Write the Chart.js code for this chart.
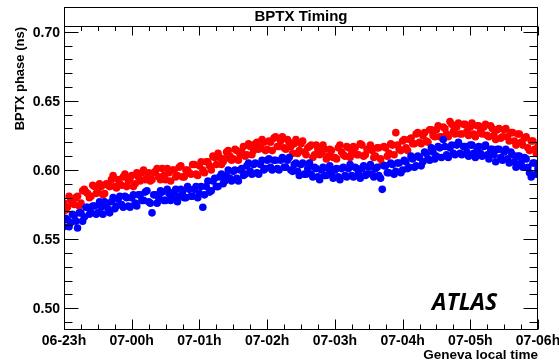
<!DOCTYPE html>
<html>
<head>
<meta charset="utf-8">
<script src="https://cdn.jsdelivr.net/npm/chart.js@4/dist/chart.umd.min.js"></script>
<style>
  html, body { margin: 0; padding: 0; background: #fff; }
  #wrap { width: 559px; height: 364px; }
</style>
</head>
<body>
<div id="wrap"><canvas id="bptxCanvas" width="559" height="364"></canvas></div>
<script>
// sampling step of the timing monitor, in hours after 06-23h (3 minutes)
const sampleStep = 0.05;

// BPTX phase readings (ns) on the full sample grid
const redPhase = [
  0.576, 0.573, 0.578, 0.575, 0.581, 0.576, 0.586, 0.583, 0.581, 0.588,
  0.584, 0.588, 0.583, 0.589, 0.593, 0.588, 0.593, 0.589, 0.597, 0.592,
  0.596, 0.590, 0.595, 0.598, 0.593, 0.598, 0.593, 0.599, 0.595, 0.601,
  0.593, 0.598, 0.600, 0.595, 0.602, 0.595, 0.600, 0.598, 0.604, 0.597,
  0.603, 0.600, 0.606, 0.603, 0.610, 0.604, 0.609, 0.606, 0.613, 0.610,
  0.608, 0.614, 0.611, 0.617, 0.611, 0.617, 0.614, 0.620, 0.616, 0.620,
  0.615, 0.620, 0.623, 0.617, 0.621, 0.616, 0.622, 0.617, 0.619, 0.612,
  0.619, 0.613, 0.616, 0.618, 0.611, 0.615, 0.612, 0.615, 0.610, 0.614,
  0.609, 0.616, 0.613, 0.610, 0.616, 0.612, 0.616, 0.611, 0.618, 0.611,
  0.615, 0.614, 0.610, 0.616, 0.604, 0.616, 0.612, 0.618, 0.627, 0.615,
  0.621, 0.616, 0.622, 0.619, 0.626, 0.620, 0.625, 0.621, 0.629, 0.625,
  0.629, 0.624, 0.631, 0.626, 0.635, 0.628, 0.631, 0.626, 0.633, 0.628,
  0.631, 0.626, 0.632, 0.628, 0.631, 0.625, 0.632, 0.625, 0.629, 0.623,
  0.629, 0.624, 0.627, 0.621, 0.626, 0.620, 0.623, 0.616, 0.621, 0.615,
  0.617
];

const bluePhase = [
  0.559, 0.564, 0.562, 0.567, 0.558, 0.569, 0.566, 0.573, 0.569, 0.574,
  0.569, 0.573, 0.577, 0.572, 0.577, 0.572, 0.579, 0.575, 0.581, 0.574,
  0.580, 0.576, 0.582, 0.578, 0.584, 0.577, 0.569, 0.582, 0.580, 0.584,
  0.578, 0.583, 0.580, 0.586, 0.581, 0.584, 0.580, 0.586, 0.581, 0.588,
  0.583, 0.573, 0.588, 0.584, 0.592, 0.588, 0.595, 0.590, 0.596, 0.594,
  0.599, 0.594, 0.600, 0.596, 0.603, 0.599, 0.604, 0.598, 0.604, 0.600,
  0.607, 0.602, 0.607, 0.601, 0.607, 0.602, 0.607, 0.600, 0.604, 0.599,
  0.604, 0.597, 0.601, 0.597, 0.602, 0.595, 0.600, 0.596, 0.601, 0.597,
  0.600, 0.595, 0.601, 0.596, 0.601, 0.596, 0.602, 0.598, 0.601, 0.596,
  0.602, 0.597, 0.601, 0.596, 0.586, 0.603, 0.598, 0.604, 0.599, 0.605,
  0.600, 0.606, 0.602, 0.608, 0.603, 0.609, 0.606, 0.612, 0.607, 0.613,
  0.610, 0.616, 0.622, 0.611, 0.616, 0.612, 0.618, 0.612, 0.617, 0.613,
  0.618, 0.612, 0.616, 0.612, 0.617, 0.611, 0.615, 0.611, 0.615, 0.609,
  0.613, 0.608, 0.613, 0.606, 0.610, 0.605, 0.609, 0.602, 0.595, 0.605,
  0.601
];

// readings taken half way between the grid samples
const redPhaseMid = [
  0.571, 0.581, 0.576, 0.580, 0.574, 0.585, 0.584, 0.580, 0.589, 0.583,
  0.590, 0.582, 0.590, 0.588, 0.596, 0.587, 0.590, 0.595, 0.588, 0.594,
  0.588, 0.598, 0.592, 0.600, 0.594, 0.592, 0.598, 0.601, 0.593, 0.596,
  0.601, 0.592, 0.600, 0.596, 0.603, 0.595, 0.600, 0.597, 0.604, 0.596,
  0.606, 0.598, 0.606, 0.600, 0.609, 0.612, 0.604, 0.608, 0.614, 0.607,
  0.615, 0.607, 0.613, 0.610, 0.619, 0.611, 0.619, 0.615, 0.622, 0.614,
  0.621, 0.614, 0.624, 0.617, 0.624, 0.615, 0.620, 0.612, 0.622, 0.614,
  0.621, 0.611, 0.617, 0.609, 0.618, 0.611, 0.618, 0.608, 0.615, 0.609,
  0.608, 0.618, 0.611, 0.617, 0.609, 0.617, 0.611, 0.619, 0.610, 0.615,
  0.618, 0.609, 0.616, 0.608, 0.617, 0.610, 0.619, 0.611, 0.618, 0.614,
  0.622, 0.614, 0.623, 0.619, 0.627, 0.619, 0.627, 0.620, 0.629, 0.624,
  0.632, 0.624, 0.630, 0.624, 0.633, 0.626, 0.634, 0.626, 0.633, 0.625,
  0.634, 0.624, 0.632, 0.626, 0.633, 0.624, 0.630, 0.622, 0.630, 0.624,
  0.630, 0.621, 0.627, 0.618, 0.626, 0.618, 0.624, 0.614, 0.621, 0.612
];

const bluePhaseMid = [
  0.565, 0.559, 0.568, 0.563, 0.569, 0.563, 0.573, 0.568, 0.574, 0.568,
  0.577, 0.568, 0.575, 0.569, 0.580, 0.574, 0.581, 0.573, 0.580, 0.573,
  0.582, 0.574, 0.582, 0.578, 0.585, 0.576, 0.582, 0.576, 0.585, 0.578,
  0.586, 0.578, 0.584, 0.577, 0.586, 0.580, 0.588, 0.581, 0.586, 0.580,
  0.588, 0.582, 0.592, 0.585, 0.594, 0.588, 0.597, 0.592, 0.600, 0.592,
  0.600, 0.592, 0.601, 0.597, 0.605, 0.597, 0.605, 0.597, 0.607, 0.601,
  0.608, 0.600, 0.607, 0.600, 0.609, 0.602, 0.609, 0.599, 0.605, 0.596,
  0.605, 0.597, 0.605, 0.595, 0.601, 0.593, 0.602, 0.596, 0.603, 0.594,
  0.601, 0.593, 0.602, 0.595, 0.604, 0.595, 0.601, 0.594, 0.603, 0.597,
  0.604, 0.595, 0.602, 0.594, 0.603, 0.598, 0.605, 0.597, 0.605, 0.598,
  0.607, 0.601, 0.610, 0.602, 0.610, 0.603, 0.613, 0.608, 0.616, 0.608,
  0.617, 0.609, 0.617, 0.609, 0.618, 0.611, 0.620, 0.611, 0.617, 0.610,
  0.618, 0.609, 0.617, 0.610, 0.618, 0.608, 0.615, 0.606, 0.615, 0.607,
  0.615, 0.605, 0.611, 0.602, 0.610, 0.602, 0.608, 0.598, 0.605, 0.597
];

// axis ticks and labels
const hourTicks = [0, 1, 2, 3, 4, 5, 6, 7];
const hourLabels = ['06-23h', '07-00h', '07-01h', '07-02h', '07-03h', '07-04h', '07-05h', '07-06h'];
const phaseTicks = [0.50, 0.55, 0.60, 0.65, 0.70];
const phaseLabels = ['0.50', '0.55', '0.60', '0.65', '0.70'];

const FONT = '"Liberation Sans", Arial, Helvetica, sans-serif';

// Turn grid readings plus mid readings into {x, y} points
function toPoints(grid, mid) {
    const pts = grid.map((v, i) => ({ x: i * sampleStep, y: v }));
    mid.forEach((v, i) => pts.push({ x: (i + 0.5) * sampleStep, y: v }));
    return pts;
}

// Plugin that draws the ROOT style frame, ticks, labels and title box
const rootFrame = {
    id: 'rootFrame',
    afterDatasetsDraw(chart) {
        const { ctx, chartArea: a, scales } = chart;
        const xs = scales.x;
        const ys = scales.y;
        const L = a.left + 0.5, R = a.right - 0.5, T = a.top + 0.5, B = a.bottom - 0.5;

        ctx.save();
        ctx.strokeStyle = '#000';
        ctx.lineWidth = 1;

        // title box
        ctx.fillStyle = '#fff';
        ctx.fillRect(a.left, 7, a.right - a.left, a.top - 7);
        ctx.strokeRect(L, 7.5, R - L, T - 7.5);

        // frame
        ctx.strokeRect(L, T, R - L, B - T);

        ctx.beginPath();
        // x ticks, major every hour, minor every 15 min
        for (let q = 0; q <= 28; q++) {
            const px = Math.round(xs.getPixelForValue(q / 4)) + 0.5;
            const major = q % 4 === 0;
            ctx.moveTo(px, B); ctx.lineTo(px, B - (major ? 10 : 5));
            ctx.moveTo(px, T); ctx.lineTo(px, T + (major ? 9 : 4.5));
        }
        // y ticks, major every 0.05, minor every 0.01
        for (let k = 49; k <= 70; k++) {
            const py = Math.round(ys.getPixelForValue(k / 100)) + 0.5;
            const major = k % 5 === 0;
            ctx.moveTo(L, py); ctx.lineTo(L + (major ? 14 : 8), py);
            ctx.moveTo(R, py); ctx.lineTo(R - (major ? 14 : 8), py);
        }
        ctx.stroke();

        ctx.fillStyle = '#000';
        // title
        ctx.font = 'bold 15px ' + FONT;
        ctx.textAlign = 'center';
        ctx.textBaseline = 'alphabetic';
        ctx.fillText('BPTX Timing', (a.left + a.right) / 2, 21);

        // x labels
        ctx.font = 'bold 14px ' + FONT;
        hourTicks.forEach((h, i) => {
            ctx.fillText(hourLabels[i], xs.getPixelForValue(h), 345);
        });

        // y labels
        ctx.textAlign = 'right';
        ctx.textBaseline = 'middle';
        phaseTicks.forEach((v, i) => {
            ctx.fillText(phaseLabels[i], a.left - 4, ys.getPixelForValue(v) + 1);
        });

        // axis titles
        ctx.font = 'bold 13.5px ' + FONT;
        ctx.textAlign = 'right';
        ctx.textBaseline = 'alphabetic';
        ctx.fillText('Geneva local time', a.right, 359);

        ctx.save();
        ctx.translate(24, 27);
        ctx.rotate(-Math.PI / 2);
        ctx.font = 'bold 13px ' + FONT;
        ctx.textAlign = 'right';
        ctx.fillText('BPTX phase (ns)', 0, 0);
        ctx.restore();

        // experiment tag
        ctx.font = 'italic bold 23px "Open Sans", ' + FONT;
        ctx.textAlign = 'left';
        ctx.fillText('ATLAS', 432, 310);

        ctx.restore();
    }
};

const ctx = document.getElementById('bptxCanvas').getContext('2d');

const bptxChart = new Chart(ctx, {
    type: 'scatter',
    data: {
        datasets: [
            {
                label: 'blue',
                data: toPoints(bluePhase, bluePhaseMid),
                backgroundColor: '#0000ff',
                borderWidth: 0,
                pointRadius: 3.8,
                clip: 0,
            },
            {
                label: 'red',
                data: toPoints(redPhase, redPhaseMid),
                backgroundColor: '#ff0000',
                borderWidth: 0,
                pointRadius: 3.8,
                clip: 0,
            }
        ]
    },
    options: {
        responsive: false,
        animation: false,
        layout: { padding: { left: 64, right: 21, top: 26, bottom: 34 } },
        scales: {
            x: { type: 'linear', min: 0, max: 7, display: false },
            y: { type: 'linear', min: 0.4843, max: 0.7041, display: false }
        },
        plugins: {
            legend: { display: false },
            tooltip: { enabled: false }
        }
    },
    plugins: [rootFrame]
});
</script>
</body>
</html>
